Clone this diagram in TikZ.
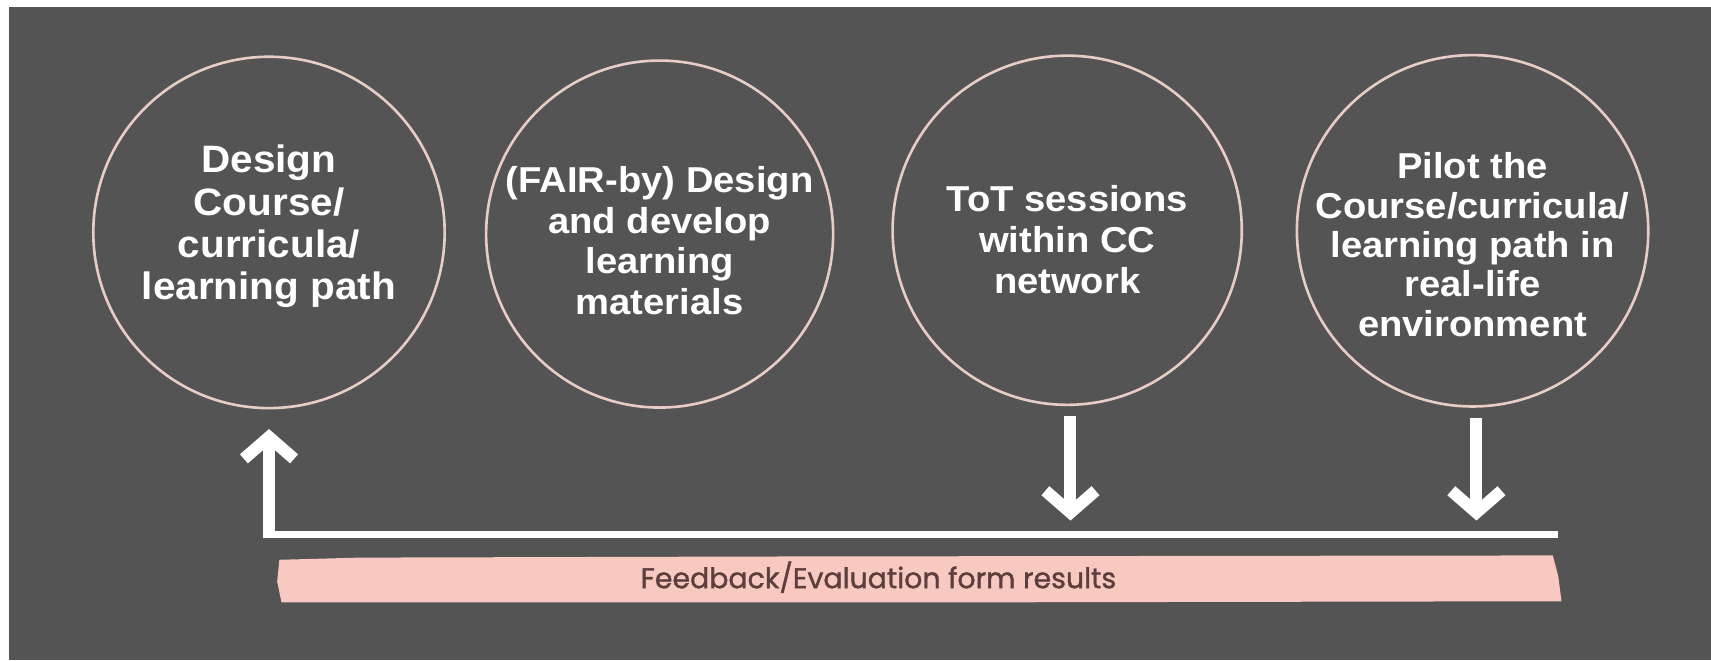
\documentclass[tikz,border=0pt]{standalone}
\usepackage{fontspec}
\usetikzlibrary{arrows.meta}
\newfontfamily\cfont[FakeStretch=1.06]{Liberation Sans}
\newfontfamily\pfont[FakeBold=1.2]{Poppins}
\definecolor{bg}{RGB}{84,84,84}
\definecolor{ring}{RGB}{232,204,198}
\definecolor{barpink}{RGB}{248,201,192}
\definecolor{bartext}{RGB}{92,62,62}
% text block placed with a vertical shift, without changing the circle size
\newcommand{\ctext}[2]{\raisebox{#1}[0pt][0pt]{\begin{tabular}{@{}c@{}}#2\end{tabular}}}
\tikzset{
  stage/.style={circle, draw=ring, line width=2.4pt, minimum size=322pt, inner sep=0pt,
    text=white, font=\cfont\bfseries\fontsize{33}{37.5}\selectfont},
  flow/.style={draw=white, line width=6pt},
  flowarrow/.style={draw=white, line width=11pt,
    -{Straight Barb[length=20pt, width=46pt, line width=11pt]}},
}
\begin{document}
\begin{tikzpicture}[x=1pt, y=-1pt]
\path[use as bounding box, fill=white] (0,0) rectangle (1568,605);
\fill[bg] (8,6) rectangle (1568,605);

\node[stage, font=\cfont\bfseries\fontsize{35}{38.5}\selectfont] (c1) at (246.5,213)
  {\ctext{-1.8pt}{Design\\Course/\\curricula/\\learning path}};
\node[stage, minimum size=318pt] (c2) at (604.5,214.5)
  {\ctext{-16.5pt}{(FAIR-by) Design\\and develop\\learning\\materials}};
\node[stage, minimum size=320pt] (c3) at (978,211)
  {\ctext{-19.2pt}{ToT sessions\\within CC\\network}};
\node[stage, font=\cfont\bfseries\fontsize{33}{36}\selectfont] (c4) at (1349.5,211.5)
  {\ctext{-23.5pt}{Pilot the\\Course/curricula/\\learning path in\\real-life\\environment}};

\coordinate (fbstart) at (241,490);
\coordinate (fbend) at (1428,490);
\coordinate (upfoot) at (246.5,493);

\draw[flow] (fbend) -- (fbstart);
\draw[flowarrow, shorten >=18pt] (upfoot) -- (upfoot |- c1.south);
\draw[flowarrow, shorten <=9pt, shorten >=13pt] ([xshift=3pt]c3.south) -- ([xshift=3pt]c3.south |- fbend);
\draw[flowarrow, shorten <=9pt, shorten >=13pt] ([xshift=3.5pt]c4.south) -- ([xshift=3.5pt]c4.south |- fbend);

\fill[barpink] (256,513) -- (330,511) -- (700,510) -- (1423,509) -- (1428,528) -- (1431,551) -- (900,552) -- (258,552) -- (254,533) -- cycle;
\node[text=bartext, font=\pfont\fontsize{26}{30}\selectfont, inner sep=0pt, anchor=base] (fb) at (805,539) {Feedback/Evaluation form results};
\end{tikzpicture}
\end{document}
